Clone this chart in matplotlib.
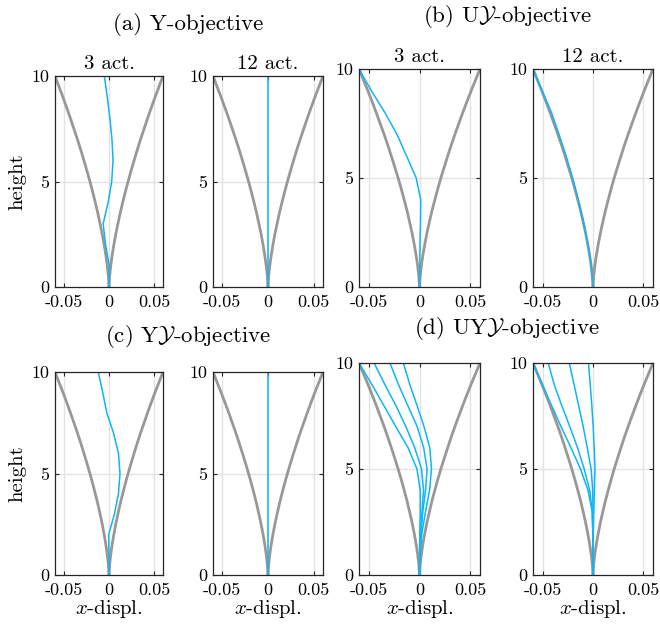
import matplotlib
matplotlib.use("Agg")
import matplotlib.pyplot as plt

plt.rcParams['font.family'] = ['cmr10', 'DejaVu Serif']
plt.rcParams['mathtext.fontset'] = 'cm'
plt.rcParams['axes.unicode_minus'] = False
plt.rcParams['axes.formatter.use_mathtext'] = True

# ---------------- data ----------------
heights = [0, 1, 2, 3, 4, 5, 6, 7, 8, 9, 10]

env_heights = [0, 0.5, 1, 1.5, 2, 2.5, 3, 3.5, 4, 4.5, 5, 5.5, 6, 6.5, 7, 7.5, 8, 8.5, 9, 9.5, 10]
env_width = [0, 0.00067, 0.0019, 0.0035, 0.0054, 0.0075, 0.0099, 0.0124, 0.0152, 0.0181, 0.0212,
             0.0245, 0.0279, 0.0314, 0.0351, 0.0390, 0.0429, 0.0470, 0.0512, 0.0556, 0.06]

# (a) Y-objective
a_3act = [0, 0.0003, -0.0038, -0.0065, -0.001, 0.003, 0.0045, 0.0033, 0.001, -0.0019, -0.0052]
a_12act = [0, 0, 0, 0, 0, 0, 0, 0, 0, 0, 0]

# (b) UY-objective
b_3act = [0, 0.0003, 0.0005, 0.001, 0.0012, -0.0033, -0.0127, -0.0223, -0.0343, -0.0477, -0.06]
b_12act = [0, -0.0018, -0.0053, -0.0097, -0.0148, -0.0205, -0.0268, -0.034, -0.0415, -0.051, -0.06]

# (c) YY-objective
c_3act = [0, 0, -0.0003, 0.006, 0.0105, 0.0122, 0.0105, 0.005, -0.0025, -0.007, -0.0119]
c_12act = [0, 0, 0, 0, 0, 0, 0, 0, 0, 0, 0]

# (d) UYY-objective (four runs each)
d_3act = [
    [0, 0.0001, 0.0003, 0.0007, 0.0007, -0.0025, -0.0113, -0.0235, -0.0354, -0.0474, -0.06],
    [0, 0.0003, 0.001, 0.0025, 0.004, 0.002, -0.0047, -0.0135, -0.0235, -0.0345, -0.045],
    [0, 0.0005, 0.0015, 0.0033, 0.006, 0.0075, 0.0042, -0.0023, -0.0117, -0.021, -0.0293],
    [0, 0.0007, 0.0025, 0.006, 0.01, 0.0119, 0.0102, 0.0045, -0.0025, -0.0097, -0.016],
]
d_12act = [
    [0, 0, -0.0002, -0.0008, -0.005, -0.0125, -0.022, -0.032, -0.0415, -0.0508, -0.06],
    [0, 0, -0.0002, -0.0008, -0.0033, -0.0088, -0.0154, -0.0232, -0.0313, -0.0389, -0.0448],
    [0, 0, 0, 0, -0.0003, -0.0019, -0.0057, -0.0098, -0.0144, -0.019, -0.0237],
    [0, 0, 0.0003, 0.0008, 0.0014, 0.002, 0.0012, 0.0002, -0.0012, -0.0028, -0.0045],
]

xticks = [-0.05, 0, 0.05]
xticklabels = ['-0.05', '0', '0.05']
yticks = [0, 5, 10]
yticklabels = ['0', '5', '10']

# ---------------- figure ----------------
W, H = 660, 629
fig = plt.figure(figsize=(W / 100, H / 100), dpi=100)

GRAY = '#9b9797'
BLUE = '#0db6f5'


def px_axes(x0, x1, y0, y1):
    return fig.add_axes([x0 / W, 1 - y1 / H, (x1 - x0) / W, (y1 - y0) / H])


def draw(ax, curves, xlabel=False, ylabel=False):
    ax.set_xlim(-0.06, 0.06)
    ax.set_ylim(0, 10)
    for xv in xticks:
        ax.axvline(xv, color='#e3e3e3', lw=1.0, zorder=0)
    ax.axhline(5, color='#e3e3e3', lw=1.0, zorder=0)
    ax.plot([-w for w in env_width], env_heights, color=GRAY, lw=2.0, zorder=2, solid_capstyle='round')
    ax.plot(env_width, env_heights, color=GRAY, lw=2.0, zorder=2, solid_capstyle='round')
    for c in curves:
        ax.plot(c, heights, color=BLUE, lw=1.1, zorder=3)
    ax.set_xticks(xticks)
    ax.set_xticklabels(xticklabels)
    ax.set_yticks(yticks)
    ax.set_yticklabels(yticklabels)
    ax.tick_params(direction='in', top=True, right=True, length=3, width=0.8,
                   labelsize=13, colors='#262626', labelcolor='black')
    ax.tick_params(axis='x', pad=5.5)
    ax.tick_params(axis='y', pad=4)
    for s in ax.spines.values():
        s.set_color('#262626')
        s.set_linewidth(0.9)
        s.set_zorder(4)
    if xlabel:
        ax.set_xlabel(r'$x$-displ.', fontsize=15, labelpad=0)
    if ylabel:
        ax.set_ylabel('height', fontsize=15, labelpad=4)


# top row
ax_a1 = px_axes(55, 163, 76, 287)
ax_a2 = px_axes(213, 323, 76, 287)
ax_b1 = px_axes(359, 480, 69, 287)
ax_b2 = px_axes(533, 653, 69, 287)
# bottom row
ax_c1 = px_axes(55, 163, 372, 575)
ax_c2 = px_axes(213, 323, 372, 575)
ax_d1 = px_axes(359, 480, 363, 575)
ax_d2 = px_axes(533, 653, 363, 575)

draw(ax_a1, [a_3act], ylabel=True)
draw(ax_a2, [a_12act])
draw(ax_b1, [b_3act])
draw(ax_b2, [b_12act])
draw(ax_c1, [c_3act], xlabel=True, ylabel=True)
draw(ax_c2, [c_12act], xlabel=True)
draw(ax_d1, d_3act, xlabel=True)
draw(ax_d2, d_12act, xlabel=True)

for ax in (ax_a1, ax_b1):
    ax.set_title('3 act.', fontsize=15, pad=5)
for ax in (ax_a2, ax_b2):
    ax.set_title('12 act.', fontsize=15, pad=5)


def ftext(x, y, s):
    fig.text(x / W, 1 - y / H, s, ha='center', va='center', fontsize=16.5)


ftext(188, 24, '(a) Y-objective')
ftext(507, 16, r'(b) U$\mathcal{Y}$-objective')
ftext(188, 337, r'(c) Y$\mathcal{Y}$-objective')
ftext(507, 328, r'(d) UY$\mathcal{Y}$-objective')

fig.savefig('out.png', dpi=100)
